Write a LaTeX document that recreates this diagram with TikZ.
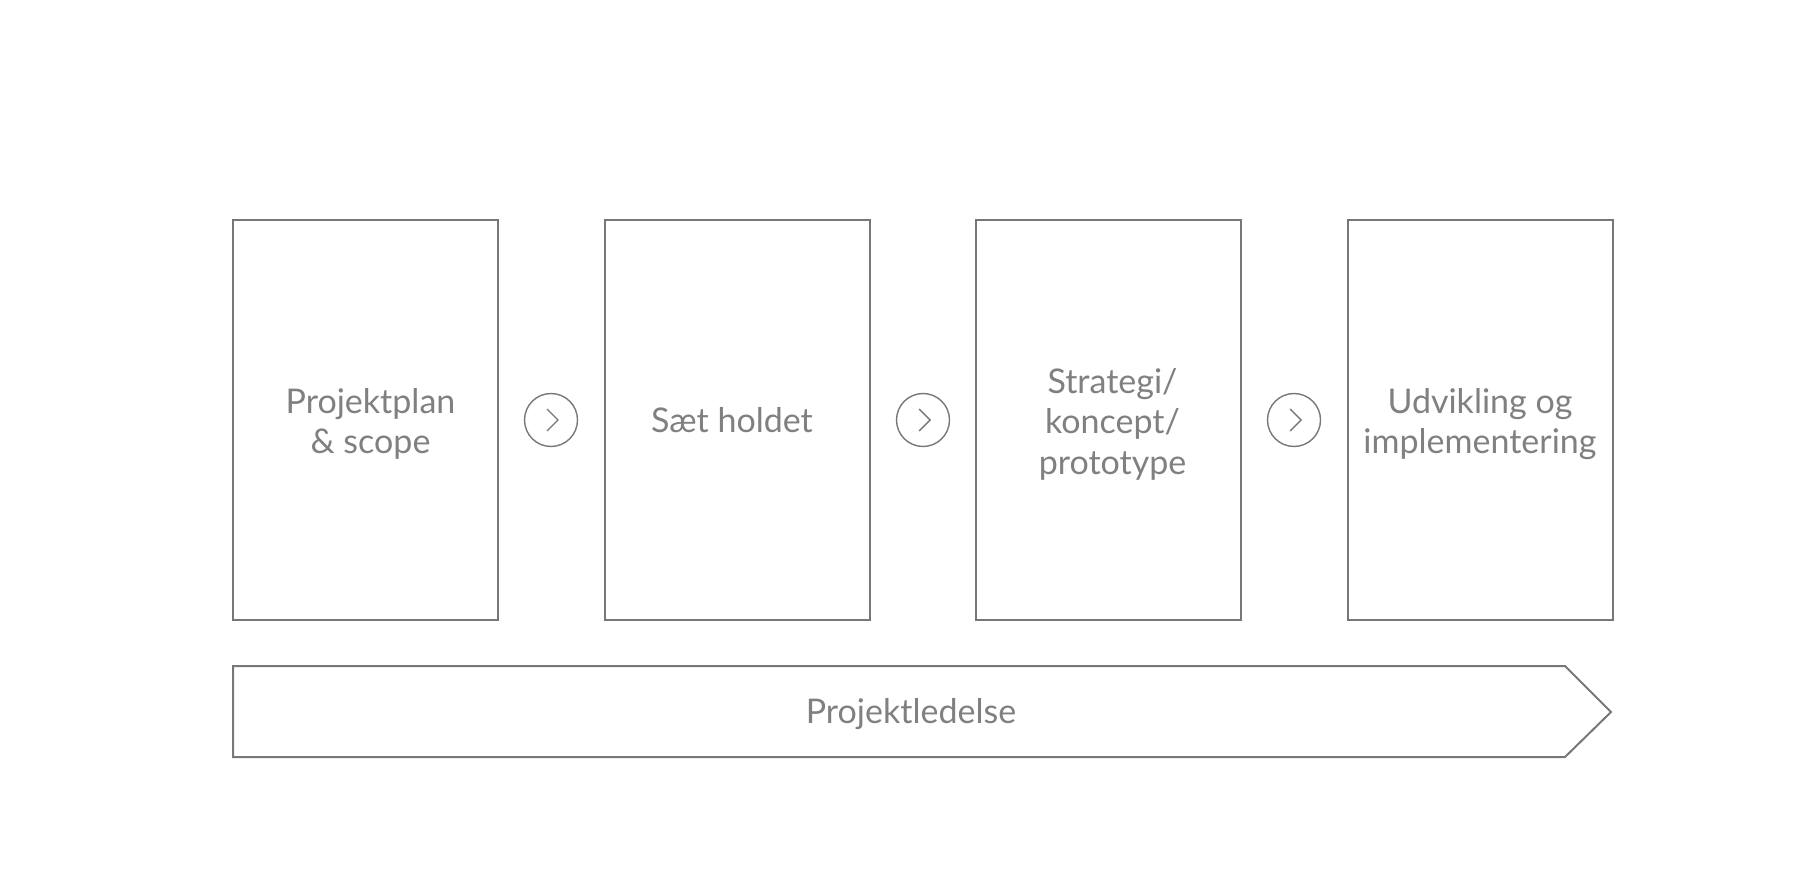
\documentclass[tikz,border=0pt]{standalone}
\usepackage{fontspec}
\setmainfont{Lato}
\definecolor{ln}{HTML}{777777}
\definecolor{tx}{HTML}{808080}
\begin{document}
\begin{tikzpicture}[x=0.5pt,y=-0.5pt,
  phasebox/.style={draw=ln, line width=1pt, minimum width=132.5pt, minimum height=200pt, inner sep=0pt},
  nextcirc/.style={circle, draw=ln, line width=0.7pt, minimum size=26.5pt, inner sep=0pt},
  chev/.style={draw=ln, line width=0.7pt},
  lbl/.style={text=tx, font=\fontsize{17}{20.3}\selectfont, inner sep=0pt, align=center}]
\useasboundingbox (0,0) rectangle (1798,876);
\node[phasebox] (p1) at (365.5,420) {};
\node[phasebox] (p2) at (737,420) {};
\node[phasebox] (p3) at (1108.5,420) {};
\node[phasebox] (p4) at (1480,420) {};
\node[lbl] (t1) at ([shift={(5,4)}]p1.center) {Projektplan\\\& scope};
\node[lbl] (t2) at ([shift={(-5,0)}]p2.center) {Sæt holdet};
\node[lbl] (t3) at ([shift={(4,4)}]p3.center) {Strategi/\\koncept/\\prototype};
\node[lbl] (t4) at ([shift={(0,4)}]p4.center) {Udvikling og\\implementering};
\node[nextcirc] (c1) at (551,420) {};
\node[nextcirc] (c2) at (923,420) {};
\node[nextcirc] (c3) at (1294,420) {};
\foreach \c in {c1,c2,c3}
  \draw[chev] (\c) ++(-4,-11) -- ++(11,11) -- ++(-11,11);
\draw[draw=ln, line width=1pt, line join=miter] (233,666) -- (1565,666) -- (1611,712) -- (1565,757) -- (233,757) -- cycle;
\node[lbl] (pl) at (911,714) {Projektledelse};
\end{tikzpicture}
\end{document}
